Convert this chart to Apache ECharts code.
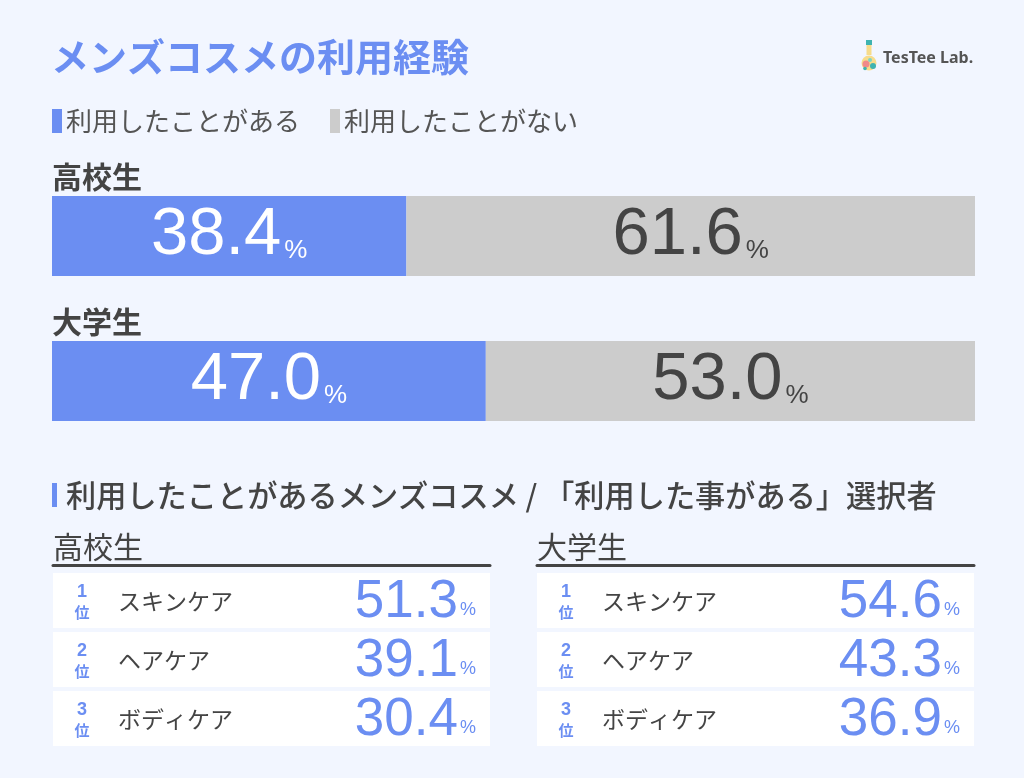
<!DOCTYPE html>
<html><head><meta charset="utf-8">
<script src="https://cdn.jsdelivr.net/npm/echarts@6/dist/echarts.min.js"></script>
<style>html,body{margin:0;padding:0;background:#f2f6ff;}#c{width:1024px;height:778px;}</style>
</head><body><div id="c"></div>
<script>
// ---- data ----
const groups = ['高校生', '大学生'];
const seriesNames = ['利用したことがある', '利用したことがない'];
const usedValues = [38.4, 47.0];
const notUsedValues = [61.6, 53.0];
const rankItems = ['スキンケア', 'ヘアケア', 'ボディケア'];
const rankLabels = ['1', '2', '3'];
const hsRankValues = [51.3, 39.1, 30.4];
const univRankValues = [54.6, 43.3, 36.9];

// ---- styles ----
const BLUE = '#6b8ef2', GRAY = '#cccccc', DARK = '#444444';
const JP = '"Noto Sans CJK JP", sans-serif';
const NUM = '"Liberation Sans", Arial, sans-serif';

function barLabel(color) {
  return {
    show: true, position: 'inside',
    formatter: p => '{v|' + p.value.toFixed(1) + '}{p|%}',
    rich: {
      v: { fontFamily: NUM, fontSize: 67, color: color, lineHeight: 72 },
      p: { fontFamily: NUM, fontSize: 26, color: color, lineHeight: 30, verticalAlign: 'bottom', padding: [0, 0, 8, 3] }
    }
  };
}

function tableSeries(axisIndex, values) {
  return {
    type: 'custom', xAxisIndex: axisIndex, yAxisIndex: axisIndex,
    data: values.map((v, i) => [v, i]),
    renderItem: function (params, api) {
      const idx = api.value(1);
      const c = api.coord([0, idx]);
      const bh = api.size([0, 1])[1];
      const cs = params.coordSys;
      const top = c[1] - bh / 2 + 4, h = bh - 4;
      const cy = top + h / 2;
      const L = cs.x, R = cs.x + cs.width;
      return {
        type: 'group', children: [
          { type: 'rect', shape: { x: L, y: top, width: cs.width, height: h }, style: { fill: '#ffffff' } },
          { type: 'text', style: { text: rankLabels[idx], x: L + 29, y: cy - 8, fill: BLUE, fontFamily: NUM, fontWeight: 'bold', fontSize: 18, align: 'center', verticalAlign: 'middle' } },
          { type: 'text', style: { text: '位', x: L + 29, y: cy + 12, fill: BLUE, fontFamily: JP, fontWeight: 'bold', fontSize: 15, align: 'center', verticalAlign: 'middle' } },
          { type: 'text', style: { text: rankItems[idx], x: L + 65, y: cy + 1, fill: DARK, fontFamily: JP, fontSize: 23, align: 'left', verticalAlign: 'middle' } },
          { type: 'text', style: { text: '%', x: R - 14, y: cy + 10, fill: BLUE, fontFamily: NUM, fontSize: 18, align: 'right', verticalAlign: 'middle' } },
          { type: 'text', style: { text: api.value(0).toFixed(1), x: R - 32, y: cy + 2, fill: BLUE, fontFamily: NUM, fontSize: 53, align: 'right', verticalAlign: 'middle' } }
        ]
      };
    }
  };
}

function tableXAxis(gridIndex, name) {
  return {
    gridIndex: gridIndex, type: 'value', min: 0, max: 100, position: 'top', offset: 4,
    axisLine: { show: true, onZero: false, lineStyle: { color: DARK, width: 3 } },
    axisTick: { show: false }, axisLabel: { show: false }, splitLine: { show: false },
    name: name, nameLocation: 'start', nameGap: 0,
    nameTextStyle: { fontFamily: JP, fontSize: 30, color: DARK, align: 'left', verticalAlign: 'bottom', padding: [0, 0, 3, 0] }
  };
}
function tableYAxis(gridIndex) {
  return {
    gridIndex: gridIndex, type: 'category', data: rankItems, inverse: true,
    axisLine: { show: false }, axisTick: { show: false }, axisLabel: { show: false }, splitLine: { show: false }
  };
}

const chart = echarts.init(document.getElementById('c'));
chart.setOption({
  backgroundColor: '#f2f6ff',
  animation: false,
  title: [
    { text: 'メンズコスメの利用経験', left: 51, top: 38, padding: 0,
      textStyle: { fontFamily: JP, fontSize: 38, fontWeight: 'bold', color: BLUE } },
    { text: '利用したことがあるメンズコスメ / 「利用した事がある」選択者', left: 66, top: 480, padding: 0,
      textStyle: { fontFamily: JP, fontSize: 30.2, fontWeight: 500, color: DARK } }
  ],
  legend: {
    data: seriesNames, left: 52, top: 108, padding: 0, icon: 'rect',
    itemWidth: 10, itemHeight: 24, itemGap: 30, selectedMode: false,
    textStyle: { fontFamily: JP, fontSize: 26, color: '#555555', padding: [0, 0, 0, -1] }
  },
  grid: [
    { left: 52, right: 49, top: 163.5, height: 290 },
    { left: 53, width: 437, top: 569, height: 177 },
    { left: 537, width: 437, top: 569, height: 177 }
  ],
  xAxis: [
    { gridIndex: 0, type: 'value', min: 0, max: 100, show: false },
    tableXAxis(1, groups[0]),
    tableXAxis(2, groups[1])
  ],
  yAxis: [
    { gridIndex: 0, type: 'category', data: groups, inverse: true,
      axisLine: { show: false }, axisTick: { show: false }, splitLine: { show: false },
      axisLabel: { inside: true, margin: 0, interval: 0, hideOverlap: false, showMinLabel: true, showMaxLabel: true,
        formatter: '{a|{value}}',
        rich: { a: { fontFamily: JP, fontSize: 30, fontWeight: 'bold', color: DARK, lineHeight: 24, padding: [0, 0, 118, 0] } } } },
    tableYAxis(1),
    tableYAxis(2)
  ],
  series: [
    { name: seriesNames[0], type: 'bar', stack: 'all', barWidth: 80, data: usedValues,
      itemStyle: { color: BLUE }, label: barLabel('#ffffff') },
    { name: seriesNames[1], type: 'bar', stack: 'all', barWidth: 80, data: notUsedValues,
      itemStyle: { color: GRAY }, label: barLabel(DARK) },
    tableSeries(1, hsRankValues),
    tableSeries(2, univRankValues)
  ],
  graphic: [
    { type: 'rect', shape: { x: 52, y: 483, width: 5, height: 24 }, style: { fill: BLUE } },
    { type: 'group', children: [
      { type: 'rect', shape: { x: 866, y: 40, width: 6, height: 5 }, style: { fill: '#3fb3b0' } },
      { type: 'rect', shape: { x: 866.5, y: 45, width: 5, height: 10 }, style: { fill: '#f7dc8a' } },
      { type: 'circle', shape: { cx: 869, cy: 63, r: 7.5 }, style: { fill: '#f7dc8a' } },
      { type: 'circle', shape: { cx: 866, cy: 64, r: 3.5 }, style: { fill: '#f08a8a' } },
      { type: 'circle', shape: { cx: 873, cy: 66, r: 3 }, style: { fill: '#3fb3b0' } },
      { type: 'circle', shape: { cx: 870, cy: 60, r: 2 }, style: { fill: '#7fd3c8' } },
      { type: 'circle', shape: { cx: 865, cy: 68.5, r: 1.8 }, style: { fill: '#3fb3b0' } }
    ] },
    { type: 'text', style: { text: 'TesTee Lab.', x: 883, y: 58, fill: '#555555', fontFamily: '"Noto Sans", sans-serif', fontSize: 16, fontWeight: 'bold', verticalAlign: 'middle' } }
  ]
});
</script>
</body></html>
